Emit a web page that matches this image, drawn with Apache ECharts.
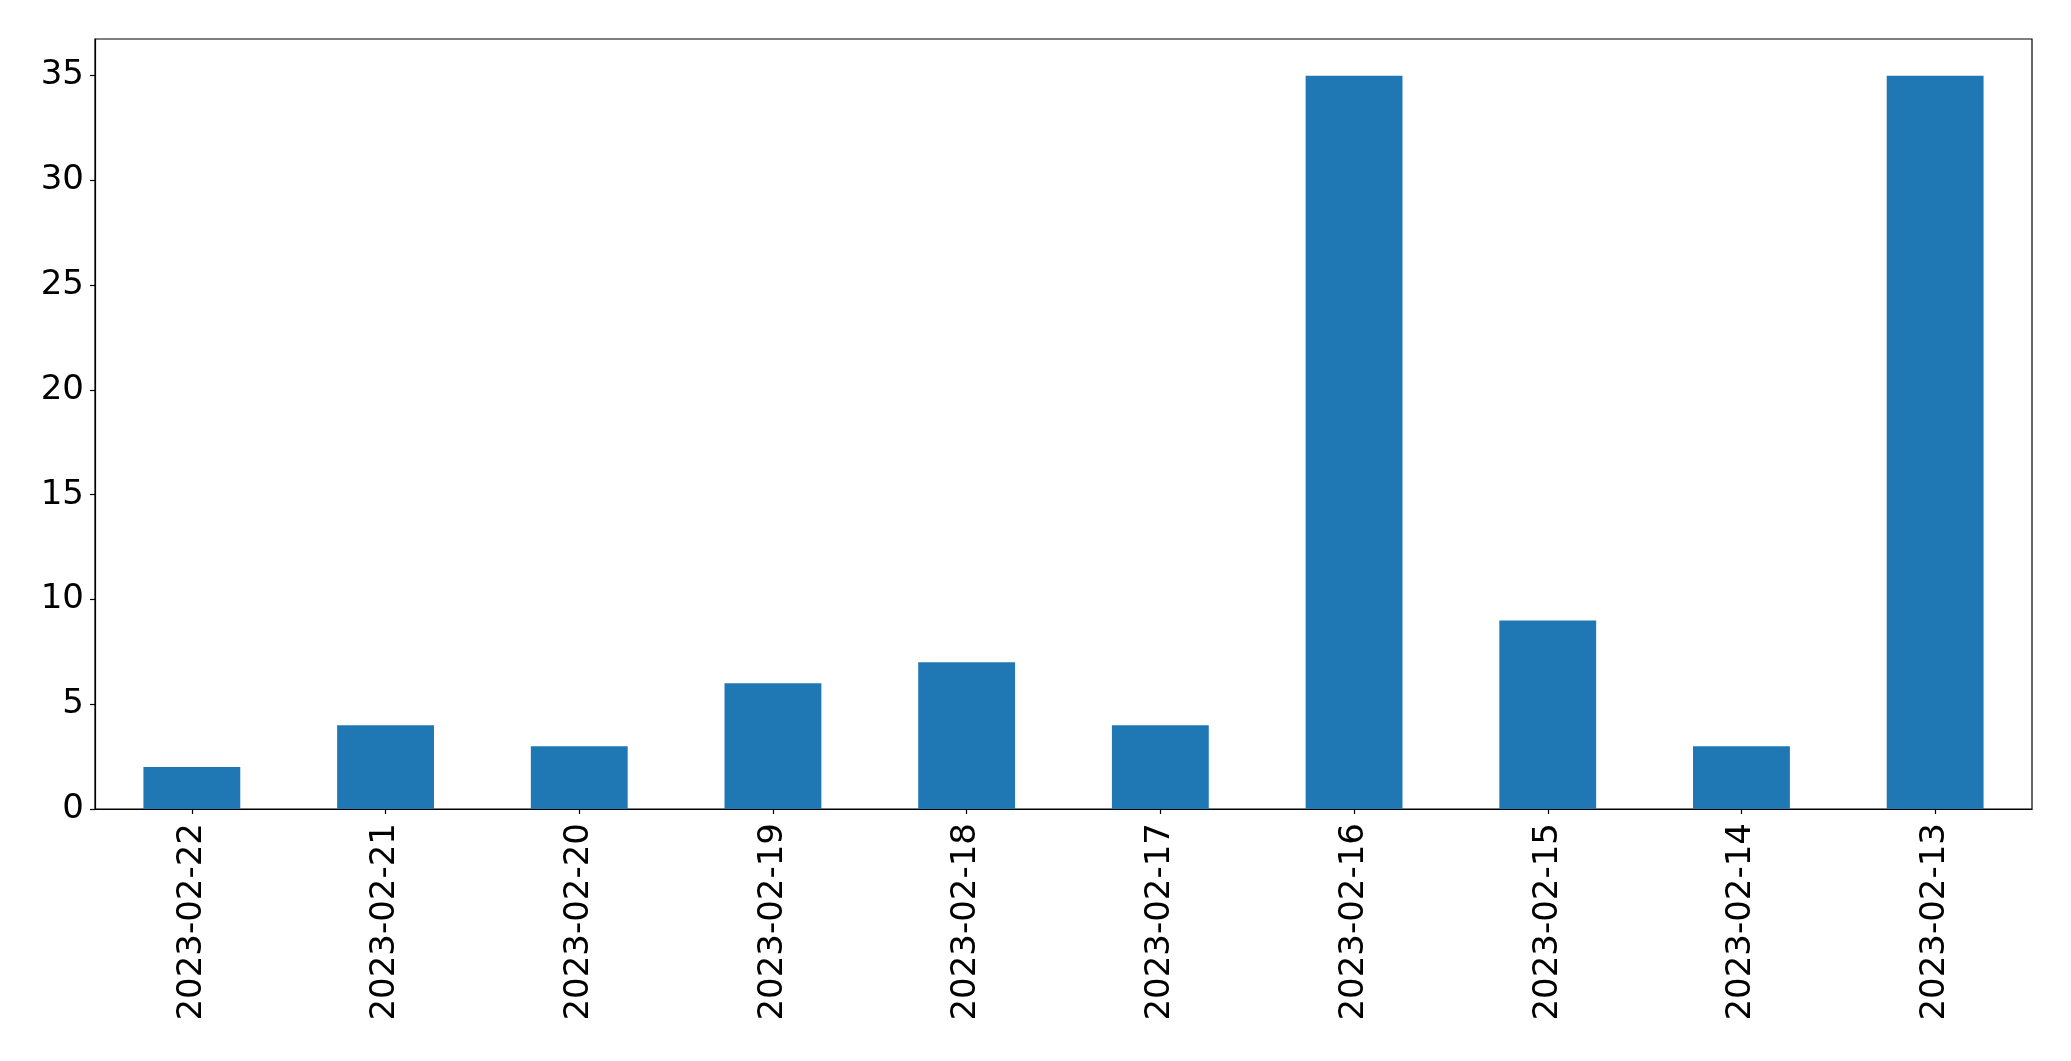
<!DOCTYPE html>
<html>
<head>
<meta charset="utf-8">
<script src="https://cdn.jsdelivr.net/npm/echarts@6/dist/echarts.min.js"></script>
<style>
html,body{margin:0;padding:0;background:#fff;}
#chart{width:2071px;height:1061px;}
</style>
</head>
<body>
<div id="chart"></div>
<script>
const categories = ["2023-02-22","2023-02-21","2023-02-20","2023-02-19","2023-02-18","2023-02-17","2023-02-16","2023-02-15","2023-02-14","2023-02-13"];
const counts = [2, 4, 3, 6, 7, 4, 35, 9, 3, 35];
const yTicks = [0, 5, 10, 15, 20, 25, 30, 35];
const yMax = 36.75;

const chart = echarts.init(document.getElementById('chart'), null, {renderer: 'canvas'});
const font = 'DejaVu Sans';
chart.setOption({
  animation: false,
  backgroundColor: '#ffffff',
  grid: {
    left: 95, top: 39, right: 39, bottom: 252,
    show: true, borderColor: '#000', borderWidth: 1.2, backgroundColor: 'transparent'
  },
  xAxis: {
    type: 'category',
    data: categories,
    boundaryGap: true,
    axisLine: {show: true, lineStyle: {color: '#000', width: 1.2}},
    axisTick: {show: true, alignWithLabel: true, length: 5, lineStyle: {color: '#000', width: 1.2}},
    axisLabel: {rotate: 90, margin: 14, color: '#000', fontSize: 34, fontFamily: font, interval: 0},
    splitLine: {show: false}
  },
  yAxis: {
    type: 'value',
    min: 0,
    max: yMax,
    axisLine: {show: true, lineStyle: {color: '#000', width: 1.2}},
    axisTick: {show: true, length: 5, lineStyle: {color: '#000', width: 1.2}, customValues: yTicks},
    axisLabel: {margin: 11, color: '#000', fontSize: 34, fontFamily: font, customValues: yTicks},
    splitLine: {show: false}
  },
  series: [{
    type: 'bar',
    data: counts,
    barWidth: '50%',
    itemStyle: {color: '#1f77b4'}
  }]
});
</script>
</body>
</html>
